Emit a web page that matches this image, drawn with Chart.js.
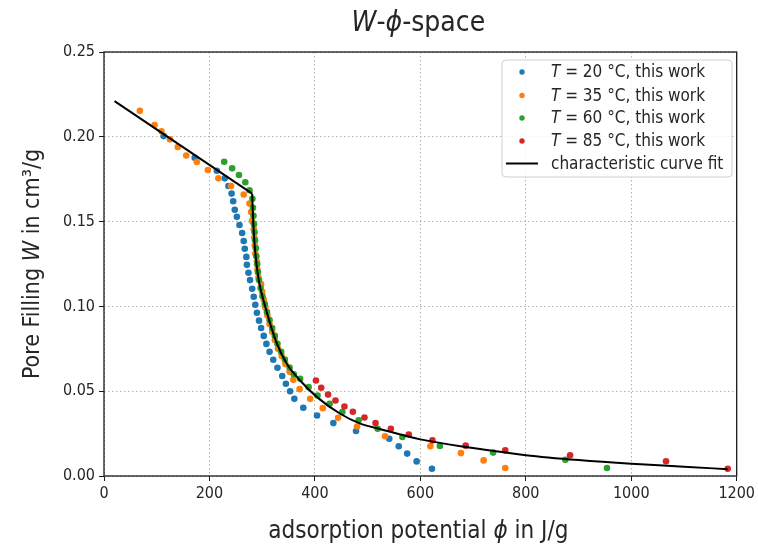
<!DOCTYPE html>
<html>
<head>
<meta charset="utf-8">
<script src="https://cdn.jsdelivr.net/npm/chart.js@4.4.1/dist/chart.umd.min.js"></script>
<style>
  html, body { margin: 0; padding: 0; background: #fff; }
  #wrap { width: 758px; height: 545px; }
</style>
</head>
<body>
<div id="wrap"><canvas id="chart" width="758" height="545"></canvas></div>
<script>
// ====================== DATA ======================
const phi20 = [113, 172, 214, 229, 236, 242, 245, 248, 252, 257, 262, 265, 267, 270, 271, 274, 277, 281, 284, 287, 290, 294, 298, 303, 308, 314, 321, 329, 338, 345, 353, 361, 378, 404, 435, 478, 541, 559, 575, 593, 622];
const w20 = [0.2004, 0.1876, 0.180, 0.1755, 0.171, 0.1665, 0.162, 0.157, 0.1528, 0.148, 0.1433, 0.1386, 0.134, 0.1292, 0.1245, 0.1198, 0.1155, 0.1104, 0.1057, 0.101, 0.0963, 0.0916, 0.0873, 0.0826, 0.0779, 0.0732, 0.0685, 0.0638, 0.059, 0.0544, 0.050, 0.0455, 0.0402, 0.0357, 0.0312, 0.0265, 0.022, 0.0175, 0.0132, 0.0086, 0.0043];

const phi35 = [68, 96, 109, 125, 140, 156, 176, 197, 217, 241, 265, 276, 279, 281, 284, 285, 286, 287, 290, 291, 293, 298, 300, 303, 306, 310, 314, 319, 324, 330, 337, 344, 352, 359, 371, 391, 415, 444, 480, 533, 619, 677, 720, 761];
const w35 = [0.2153, 0.2069, 0.2032, 0.1985, 0.194, 0.189, 0.1851, 0.1804, 0.1755, 0.171, 0.166, 0.1606, 0.1556, 0.1504, 0.1455, 0.1406, 0.1359, 0.1312, 0.1265, 0.1218, 0.117, 0.1132, 0.1088, 0.1041, 0.0994, 0.0947, 0.0896, 0.085, 0.0802, 0.0751, 0.0708, 0.0661, 0.0614, 0.0567, 0.0512, 0.0455, 0.040, 0.0343, 0.0292, 0.0234, 0.0175, 0.0135, 0.0092, 0.0047];

const phi60 = [228, 243, 256, 268, 276, 281.5, 282.5, 283.5, 284.5, 285.5, 286.5, 288, 289, 290.5, 292, 294, 297, 300.5, 305, 309, 314, 319, 324, 329, 336, 343, 352, 360, 372, 388, 405, 428, 452, 483, 519, 566, 637, 738, 875, 954];
const w60 = [0.1853, 0.1814, 0.1775, 0.1732, 0.1685, 0.1634, 0.1582, 0.1534, 0.1485, 0.1437, 0.139, 0.1343, 0.1296, 0.1249, 0.1202, 0.1155, 0.1108, 0.1061, 0.1014, 0.0967, 0.092, 0.0873, 0.0826, 0.078, 0.0733, 0.0687, 0.064, 0.060, 0.0573, 0.0524, 0.0475, 0.0426, 0.0377, 0.0328, 0.0279, 0.023, 0.0177, 0.0138, 0.0096, 0.0047];

const phi85 = [402, 412, 425, 439, 456, 472, 494, 515, 544, 578, 623, 686, 761, 884, 1066, 1183];
const w85 = [0.0563, 0.052, 0.048, 0.0445, 0.041, 0.0379, 0.0345, 0.0312, 0.0279, 0.0245, 0.021, 0.0179, 0.0151, 0.0122, 0.0087, 0.0043];

// characteristic curve fit
const fitLinePhi = [20, 281];
const fitLineW = [0.221, 0.1665];
const fitCurvePhi = [281, 283, 286, 290, 295, 303, 315, 328, 347, 372, 404, 448, 485, 523, 600, 700, 800, 900, 1000, 1100, 1183];
const fitCurveW = [0.1665, 0.150, 0.135, 0.123, 0.113, 0.103, 0.090, 0.078, 0.066, 0.0563, 0.0465, 0.0367, 0.031, 0.0277, 0.0216, 0.0165, 0.0123, 0.0094, 0.0072, 0.0055, 0.004];

const xTicks = [0, 200, 400, 600, 800, 1000, 1200];
const yTicks = [0.00, 0.05, 0.10, 0.15, 0.20, 0.25];

const seriesLabels = ['20', '35', '60', '85'];
const colors = ['#1f77b4', '#ff7f0e', '#2ca02c', '#d62728'];

// ====================== HELPERS ======================
const FONT = '"DejaVu Sans Condensed", "DejaVu Sans", sans-serif';
const pts = (xs, ys) => xs.map((x, i) => ({ x: x, y: ys[i] }));

function richText(ctx, segs, x, y, size, align) {
  let total = 0;
  segs.forEach(s => {
    ctx.font = (s.i ? 'italic ' : '') + size + 'px ' + FONT;
    s.w = ctx.measureText(s.t).width;
    total += s.w;
  });
  let cx = align === 'center' ? x - total / 2 : x;
  segs.forEach(s => {
    ctx.font = (s.i ? 'italic ' : '') + size + 'px ' + FONT;
    ctx.fillText(s.t, cx, y);
    cx += s.w;
  });
}

// title, axis labels, full frame and legend drawn on the canvas
const decorations = {
  id: 'decorations',
  afterDraw(chart) {
    const ctx = chart.ctx;
    const a = chart.chartArea;
    ctx.save();
    ctx.fillStyle = '#262626';
    ctx.textAlign = 'left';
    ctx.textBaseline = 'alphabetic';

    const cx = (a.left + a.right) / 2;
    richText(ctx, [{ t: 'W', i: true }, { t: '-' }, { t: 'ϕ', i: true }, { t: '-space' }], cx - 2, 31, 28, 'center');
    richText(ctx, [{ t: 'adsorption potential ' }, { t: 'ϕ', i: true }, { t: ' in J/g' }], cx - 2, 538, 24, 'center');

    ctx.save();
    ctx.translate(39, (a.top + a.bottom) / 2);
    ctx.rotate(-Math.PI / 2);
    richText(ctx, [{ t: 'Pore Filling ' }, { t: 'W', i: true }, { t: ' in cm³/g' }], 0, 0, 23, 'center');
    ctx.restore();

    // frame
    ctx.strokeStyle = '#1a1a1a';
    ctx.lineWidth = 1.3;
    ctx.strokeRect(a.left, a.top, a.right - a.left, a.bottom - a.top);

    // legend
    const lx = 502, ly = 60, lw = 230, lh = 117;
    ctx.beginPath();
    ctx.roundRect(lx, ly, lw, lh, 4);
    ctx.fillStyle = 'rgba(255,255,255,0.85)';
    ctx.fill();
    ctx.strokeStyle = '#d0d0d0';
    ctx.lineWidth = 1;
    ctx.stroke();

    const rows = [72, 95.5, 118, 141, 163.5];
    ctx.textBaseline = 'middle';
    seriesLabels.forEach((t, i) => {
      ctx.beginPath();
      ctx.arc(522, rows[i], 2.7, 0, Math.PI * 2);
      ctx.fillStyle = colors[i];
      ctx.fill();
      ctx.fillStyle = '#262626';
      richText(ctx, [{ t: 'T', i: true }, { t: ' = ' + t + ' °C, this work' }], 551, rows[i] + 1, 17, 'left');
    });
    ctx.strokeStyle = '#000';
    ctx.lineWidth = 2;
    ctx.beginPath();
    ctx.moveTo(506, rows[4]);
    ctx.lineTo(538, rows[4]);
    ctx.stroke();
    ctx.fillStyle = '#262626';
    richText(ctx, [{ t: 'characteristic curve fit' }], 551, rows[4] + 1, 17, 'left');
    ctx.restore();
  }
};

// ====================== CHART ======================
const scatterSet = (i, xs, ys) => ({
  type: 'scatter',
  label: 'T = ' + seriesLabels[i] + ' °C, this work',
  data: pts(xs, ys),
  backgroundColor: colors[i],
  borderWidth: 0,
  pointRadius: 3.3,
  order: 4 - i
});

const axisFont = { family: FONT, size: 16 };

new Chart(document.getElementById('chart'), {
  data: {
    datasets: [
      scatterSet(0, phi20, w20),
      scatterSet(1, phi35, w35),
      scatterSet(2, phi60, w60),
      scatterSet(3, phi85, w85),
      {
        type: 'line',
        label: 'characteristic curve fit',
        data: pts(fitLinePhi, fitLineW),
        borderColor: '#000',
        borderWidth: 2,
        pointRadius: 0,
        tension: 0,
        order: -1
      },
      {
        type: 'line',
        label: 'characteristic curve fit',
        data: pts(fitCurvePhi, fitCurveW),
        borderColor: '#000',
        borderWidth: 2,
        pointRadius: 0,
        cubicInterpolationMode: 'monotone',
        order: -1
      }
    ]
  },
  options: {
    responsive: false,
    animation: false,
    devicePixelRatio: 1,
    layout: { padding: { left: 0, top: 52, right: 18, bottom: 0 } },
    plugins: {
      legend: { display: false },
      title: { display: false },
      tooltip: { enabled: false }
    },
    scales: {
      x: {
        type: 'linear',
        min: 0,
        max: 1200,
        afterBuildTicks: s => { s.ticks = xTicks.map(v => ({ value: v })); },
        afterFit: s => { s.height = 69; },
        ticks: { font: axisFont, color: '#262626', padding: 3, maxRotation: 0, callback: v => String(v) },
        grid: { color: '#b0b0b0', tickColor: '#1a1a1a', tickLength: 5, lineWidth: 1 },
        border: { display: false, dash: [1.5, 2.5] }
      },
      y: {
        type: 'linear',
        min: 0,
        max: 0.25,
        afterBuildTicks: s => { s.ticks = yTicks.map(v => ({ value: v })); },
        afterFit: s => { s.width = 104; },
        ticks: { font: axisFont, color: '#262626', padding: 4, callback: v => v.toFixed(2) },
        grid: { color: '#b0b0b0', tickColor: '#1a1a1a', tickLength: 5, lineWidth: 1 },
        border: { display: false, dash: [1.5, 2.5] }
      }
    }
  },
  plugins: [decorations]
});
</script>
</body>
</html>
